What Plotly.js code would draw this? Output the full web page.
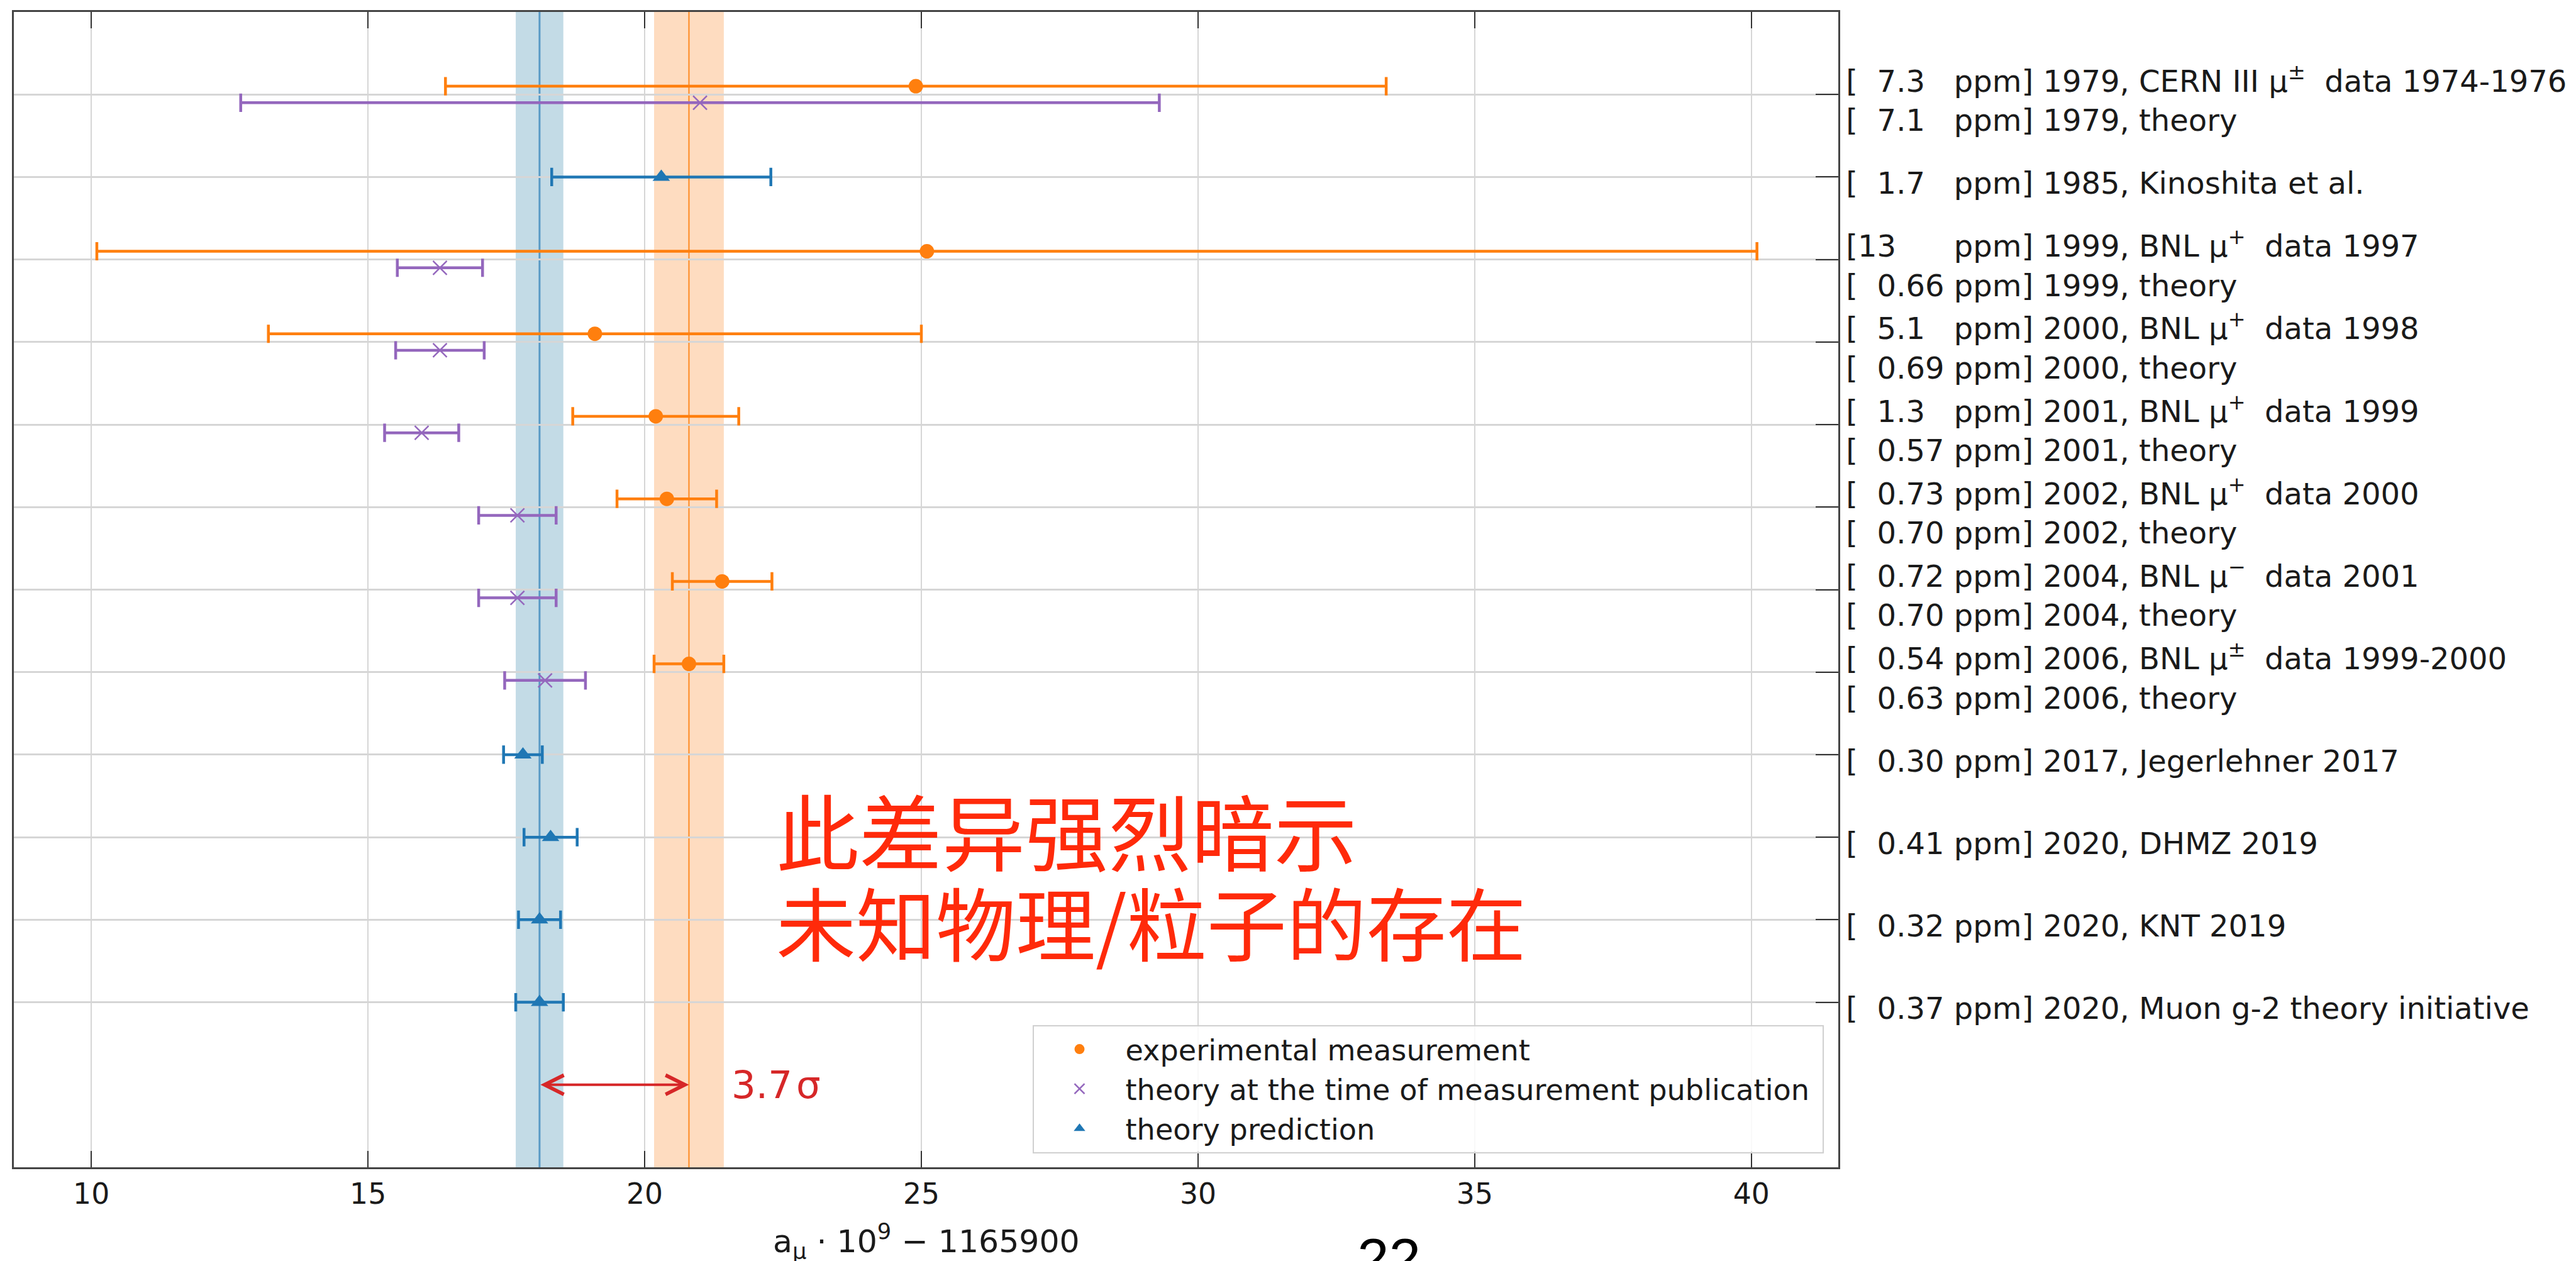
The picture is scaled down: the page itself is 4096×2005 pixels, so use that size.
<!DOCTYPE html>
<html>
<head>
<meta charset="utf-8">
<script src="https://cdn.plot.ly/plotly-3.0.1.min.js"></script>
<style>
html,body{margin:0;padding:0;background:#ffffff;}
#chart{width:4096px;height:2005px;}
</style>
</head>
<body>
<div id="chart"></div>
<script>
// ---- data ----
const expRow = [1, 3, 4, 5, 6, 7, 8];
const expVal = [24.9, 25.1, 19.1, 20.2, 20.4, 21.4, 20.8];
const expErr = [8.5, 15.0, 5.9, 1.5, 0.9, 0.9, 0.63];

const thAtRow = [1, 3, 4, 5, 6, 7, 8];
const thAtVal = [21.0, 16.3, 16.3, 15.97, 17.7, 17.7, 18.2];
const thAtErr = [8.3, 0.77, 0.80, 0.67, 0.70, 0.70, 0.73];

const predRow = [2, 9, 10, 11, 12];
const predVal = [20.3, 17.8, 18.3, 18.1, 18.1];
const predErr = [1.98, 0.35, 0.48, 0.38, 0.43];

const seriesNames = ["experimental measurement", "theory at the time of measurement publication", "theory prediction"];

const xTicks = [10, 15, 20, 25, 30, 35, 40];
const rowTicks = [1, 2, 3, 4, 5, 6, 7, 8, 9, 10, 11, 12];
const rowLabels = [
  "[  7.3   ppm] 1979, CERN III μ<sup>±</sup>  data 1974-1976<br>[  7.1   ppm] 1979, theory",
  "[  1.7   ppm] 1985, Kinoshita et al.",
  "[13      ppm] 1999, BNL μ<sup>+</sup>  data 1997<br>[  0.66 ppm] 1999, theory",
  "[  5.1   ppm] 2000, BNL μ<sup>+</sup>  data 1998<br>[  0.69 ppm] 2000, theory",
  "[  1.3   ppm] 2001, BNL μ<sup>+</sup>  data 1999<br>[  0.57 ppm] 2001, theory",
  "[  0.73 ppm] 2002, BNL μ<sup>+</sup>  data 2000<br>[  0.70 ppm] 2002, theory",
  "[  0.72 ppm] 2004, BNL μ<sup>−</sup>  data 2001<br>[  0.70 ppm] 2004, theory",
  "[  0.54 ppm] 2006, BNL μ<sup>±</sup>  data 1999-2000<br>[  0.63 ppm] 2006, theory",
  "[  0.30 ppm] 2017, Jegerlehner 2017",
  "[  0.41 ppm] 2020, DHMZ 2019",
  "[  0.32 ppm] 2020, KNT 2019",
  "[  0.37 ppm] 2020, Muon g-2 theory initiative"
];
const xTitle = "a<sub>μ</sub> · 10<sup>9</sup> − 1165900";
const sigmaText = "3.7\u200Aσ";
const noteLines = ["此差异强烈暗示", "未知物理/粒子的存在"];
const pageNumber = "22";

// ---- styling ----
const C_ORANGE = "#ff7f0e", C_PURPLE = "#9467bd", C_BLUE = "#1f77b4", C_RED = "#d62728";
const FONT = "DejaVu Sans, Liberation Sans, sans-serif";
const nb = s => s.replace(/ /g, "\u00A0");
const legendName = s => s + "\u00A0";

const errStyle = (arr, color) => ({type: "data", array: arr, visible: true, color: color, thickness: 4.5, width: 14.6});

const traces = [
  {
    type: "scatter", mode: "markers", name: legendName(seriesNames[0]),
    x: expVal, y: expRow.map(r => r - 0.1),
    error_x: errStyle(expErr, C_ORANGE),
    marker: {symbol: "circle", size: 23, color: C_ORANGE},
    hoverinfo: "skip"
  },
  {
    type: "scatter", mode: "markers", name: legendName(seriesNames[1]),
    x: thAtVal, y: thAtRow.map(r => r + 0.1),
    error_x: errStyle(thAtErr, C_PURPLE),
    marker: {symbol: "x-thin", size: 22, color: C_PURPLE, line: {width: 2.5, color: C_PURPLE}},
    hoverinfo: "skip"
  },
  {
    type: "scatter", mode: "markers", name: legendName(seriesNames[2]),
    x: predVal, y: predRow,
    error_x: errStyle(predErr, C_BLUE),
    marker: {symbol: "triangle-up", size: 24, color: C_BLUE},
    hoverinfo: "skip"
  }
];

const thC = predVal[predVal.length - 1], thE = predErr[predErr.length - 1];
const exC = expVal[expVal.length - 1], exE = expErr[expErr.length - 1];

const shapes = [
  {type: "rect", xref: "x", yref: "paper", x0: thC - thE, x1: thC + thE, y0: 0, y1: 1,
   fillcolor: "rgb(195,219,230)", line: {width: 0}, layer: "below"},
  {type: "rect", xref: "x", yref: "paper", x0: exC - exE, x1: exC + exE, y0: 0, y1: 1,
   fillcolor: "rgb(254,220,192)", line: {width: 0}, layer: "below"},
  {type: "line", xref: "x", yref: "paper", x0: thC, x1: thC, y0: 0, y1: 1,
   line: {color: "rgba(31,119,180,0.65)", width: 3}, layer: "between"},
  {type: "line", xref: "x", yref: "paper", x0: exC, x1: exC, y0: 0, y1: 1,
   line: {color: "rgba(255,127,14,0.9)", width: 2}, layer: "between"}
];

const annotations = [
  {x: exC, y: 13, ax: thC, ay: 13, xref: "x", yref: "y", axref: "x", ayref: "y",
   text: "", showarrow: true, arrowside: "end+start", arrowhead: 5, startarrowhead: 5,
   arrowsize: 1.5, startarrowsize: 1.5, arrowwidth: 4, arrowcolor: C_RED, standoff: 0, startstandoff: 0},
  {x: 21.55, y: 13, xref: "x", yref: "y", xanchor: "left", yanchor: "middle", showarrow: false,
   text: sigmaText, font: {family: FONT, size: 61, color: C_RED}},
  {x: 0.417, y: 0.2931, xref: "paper", yref: "paper", xanchor: "left", yanchor: "middle", showarrow: false,
   text: noteLines[0], font: {family: "Noto Sans CJK SC", size: 132, color: "#ff2a0a"}},
  {x: 0.417, y: 0.2133, xref: "paper", yref: "paper", xanchor: "left", yanchor: "middle", showarrow: false,
   text: noteLines[1], font: {family: "Noto Sans CJK SC", size: 127, color: "#ff2a0a"}},
  {x: 0.7538, y: -0.0504, xref: "paper", yref: "paper", xanchor: "center", yanchor: "top", showarrow: false,
   text: pageNumber, font: {family: "Liberation Sans, Arial, sans-serif", size: 91, color: "#000000"}},
  {x: 0.5, y: -0.0639, xref: "paper", yref: "paper", xanchor: "center", yanchor: "middle", showarrow: false,
   text: xTitle, font: {family: FONT, size: 50.5, color: "#1a1a1a"}}
];

const layout = {
  width: 4096, height: 2005,
  margin: {l: 22, r: 1173, t: 19, b: 149, pad: 0},
  paper_bgcolor: "#ffffff", plot_bgcolor: "#ffffff",
  font: {family: FONT, color: "#111111"},
  showlegend: true,
  xaxis: {
    range: [8.6, 41.57], tickmode: "array", tickvals: xTicks, ticktext: xTicks.map(String),
    ticks: "inside", ticklen: 26, tickwidth: 2, tickcolor: "#333333",
    mirror: "ticks", showline: true, linecolor: "#444444", linewidth: 2.5,
    showgrid: true, gridcolor: "#d6d6d6", gridwidth: 2, zeroline: false,
    tickfont: {family: FONT, size: 45.7, color: "#1a1a1a"},
    automargin: false
  },
  yaxis: {
    range: [14, 0], side: "right", tickmode: "array", tickvals: rowTicks, ticktext: rowLabels.map(nb),
    ticks: "inside", ticklen: 36, tickwidth: 2, tickcolor: "#333333",
    mirror: true, showline: true, linecolor: "#444444", linewidth: 2.5,
    showgrid: true, gridcolor: "#d6d6d6", gridwidth: 2.5, zeroline: false,
    tickfont: {family: FONT, size: 48, color: "#1a1a1a"},
    ticklabelshift: -10,
    automargin: false
  },
  legend: {
    x: 0.9919, y: 0.0122, xanchor: "right", yanchor: "bottom",
    bgcolor: "rgba(255,255,255,0.85)", bordercolor: "#d0d0d0", borderwidth: 2,
    font: {family: FONT, size: 46.2, color: "#1a1a1a"}, itemwidth: 136, tracegroupgap: 0
  },
  shapes: shapes,
  annotations: annotations
};

Plotly.newPlot("chart", traces, layout, {displayModeBar: false, responsive: false});
</script>
</body>
</html>
